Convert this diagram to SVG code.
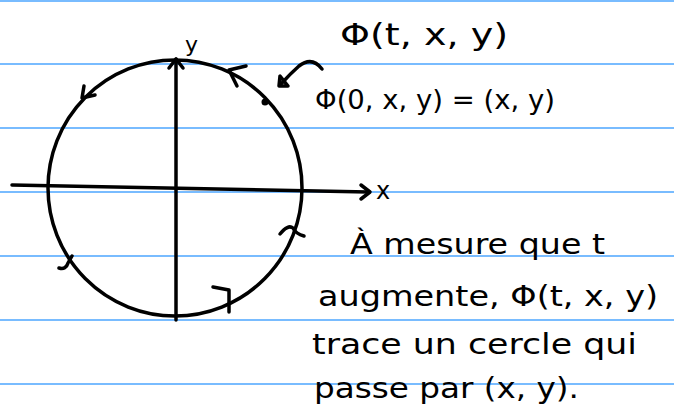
<svg xmlns="http://www.w3.org/2000/svg" width="674" height="406" viewBox="0 0 674 406">
<style>
.rule{stroke:#4da6ff;stroke-width:1.5}
.ink{fill:none;stroke:#000;stroke-width:3.5;stroke-linecap:round;stroke-linejoin:round}
.t{font-family:"DejaVu Sans","Liberation Sans",sans-serif;fill:#000}
</style>
<rect width="674" height="406" fill="#fff"/>
<g id="paper">
<line class="rule" x1="0" y1="1" x2="674" y2="1"/>
<line class="rule" x1="0" y1="64" x2="674" y2="64"/>
<line class="rule" x1="0" y1="128" x2="674" y2="128"/>
<line class="rule" x1="0" y1="192" x2="674" y2="192"/>
<line class="rule" x1="0" y1="256" x2="674" y2="256"/>
<line class="rule" x1="0" y1="320" x2="674" y2="320"/>
<line class="rule" x1="0" y1="384" x2="674" y2="384"/>
</g>
<g id="circle">
<ellipse class="ink" cx="175" cy="188" rx="127" ry="128"/>
<path class="ink" d="M84,86 L82,98 L95,95"/>
<path class="ink" d="M246,66 L229,70 L237,86"/>
<path class="ink" d="M280,234 Q288,224 293,228 Q296,234 304,236"/>
<path class="ink" d="M59,268 Q66,270 68,263 L72,256"/>
<path class="ink" d="M213,287 L229,290 L229,312"/>
<circle cx="265" cy="102" r="3.5" fill="#000"/>
</g>
<g id="axes">
<path class="ink" d="M12,185 L368,192"/>
<path class="ink" d="M361,185 L370,192 L361,199"/>
<path class="ink" d="M176,320 L176,59"/>
<path class="ink" d="M169,68 L176,59 L183,68"/>
<text class="t" x="376" y="199" font-size="24">x</text>
<text class="t" x="185" y="52" font-size="22">y</text>
</g>
<g id="labels">
<text class="t" x="340" y="45" font-size="30" textLength="168" lengthAdjust="spacingAndGlyphs">Φ(t, x, y)</text>
<path class="ink" d="M322,69 Q312,56 299,66 Q290,74 281,84"/>
<path class="ink" d="M280,76 L279,86 L288,86 Z"/>
<text class="t" x="315" y="109" font-size="26" textLength="240" lengthAdjust="spacingAndGlyphs">Φ(0, x, y) = (x, y)</text>
</g>
<g id="paragraph">
<text class="t" x="350" y="254" font-size="28" textLength="255" lengthAdjust="spacingAndGlyphs">À mesure que t</text>
<text class="t" x="318" y="306" font-size="28" textLength="340" lengthAdjust="spacingAndGlyphs">augmente,  Φ(t, x, y)</text>
<text class="t" x="312" y="354" font-size="28" textLength="325" lengthAdjust="spacingAndGlyphs">trace un cercle qui</text>
<text class="t" x="314" y="398" font-size="28" textLength="265" lengthAdjust="spacingAndGlyphs">passe par  (x, y).</text>
</g>
</svg>
